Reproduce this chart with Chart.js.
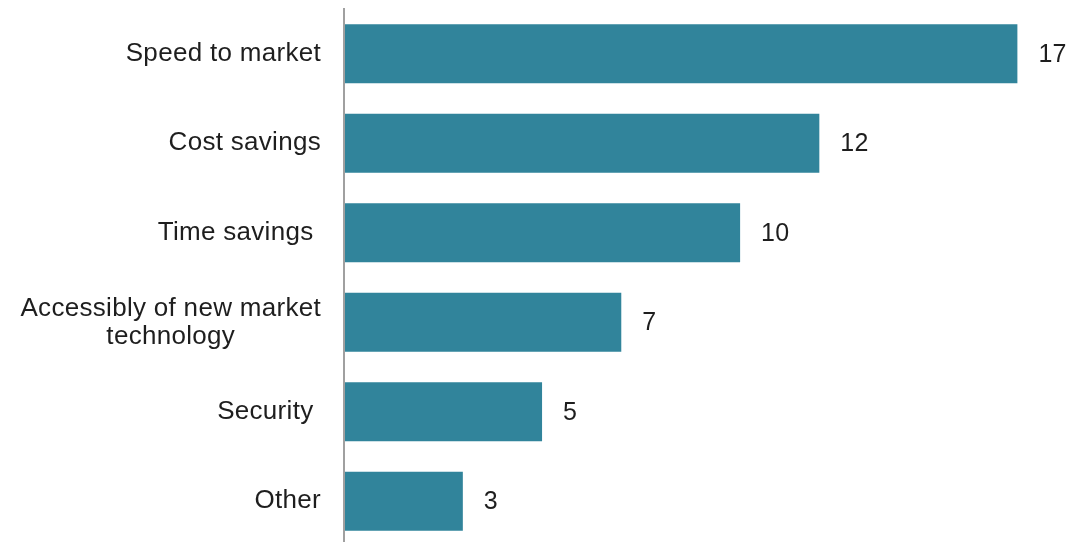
<!DOCTYPE html>
<html>
<head>
<meta charset="utf-8">
<script src="https://cdn.jsdelivr.net/npm/chart.js@4"></script>
<style>
  html, body { margin: 0; padding: 0; background: #fff; overflow: hidden; }
  #wrap { width: 1091px; height: 548px; position: relative; }
</style>
</head>
<body>
<div id="wrap"><canvas id="myChart"></canvas></div>
<script>
var categories = [
	"Speed to market",
	"Cost savings",
	"Time savings ",
	["Accessibly of new market", "technology"],
	"Security ",
	"Other"
];
var values = [17, 12, 10, 7, 5, 3];

var barColor = "#31849b";
var textColor = "#1e1e1e";
var fontFamily = "'Liberation Sans', Arial, sans-serif";

// category names on the left and the value next to each bar
var barLabels = {
	id: "barLabels",
	afterDatasetsDraw: function(chart) {
		var ctx = chart.ctx;
		var yScale = chart.scales.y;
		ctx.save();
		ctx.fillStyle = textColor;
		ctx.textBaseline = "middle";
		ctx.letterSpacing = "0.3px";

		ctx.font = "25px " + fontFamily;
		ctx.textAlign = "left";
		chart.getDatasetMeta(0).data.forEach(function(bar, i) {
			ctx.fillText(String(values[i]), bar.x + 21, bar.y + 1);
		});

		ctx.font = "26px " + fontFamily;
		var right = 321;
		categories.forEach(function(label, i) {
			var y = yScale.getPixelForTick(i);
			if (Array.isArray(label)) {
				var w = Math.max.apply(null, label.map(function(s) { return ctx.measureText(s).width; }));
				var lh = 28;
				var y0 = y - (label.length - 1) * lh / 2 + 1;
				ctx.textAlign = "center";
				label.forEach(function(s, k) {
					ctx.fillText(s, right - w / 2, y0 + k * lh);
				});
			} else {
				ctx.textAlign = "right";
				ctx.fillText(label, right, y);
			}
		});
		ctx.restore();
	}
};

new Chart("myChart", {
	type: "bar",
	data: {
		labels: categories,
		datasets: [{
			data: values,
			backgroundColor: barColor,
			borderWidth: 0,
			barPercentage: 0.66,
			categoryPercentage: 1
		}]
	},
	options: {
		indexAxis: "y",
		responsive: true,
		maintainAspectRatio: false,
		animation: false,
		layout: { padding: { top: 9, bottom: 2, left: 0, right: 34 } },
		plugins: {
			legend: { display: false },
			tooltip: { enabled: false }
		},
		scales: {
			x: {
				display: false,
				min: 0,
				max: 18
			},
			y: {
				grid: { display: false },
				ticks: { display: false },
				border: { display: true, color: "#a0a0a0", width: 2, z: 1 },
				afterFit: function(scale) { scale.width = 344; }
			}
		}
	},
	plugins: [barLabels]
});
</script>
</body>
</html>
